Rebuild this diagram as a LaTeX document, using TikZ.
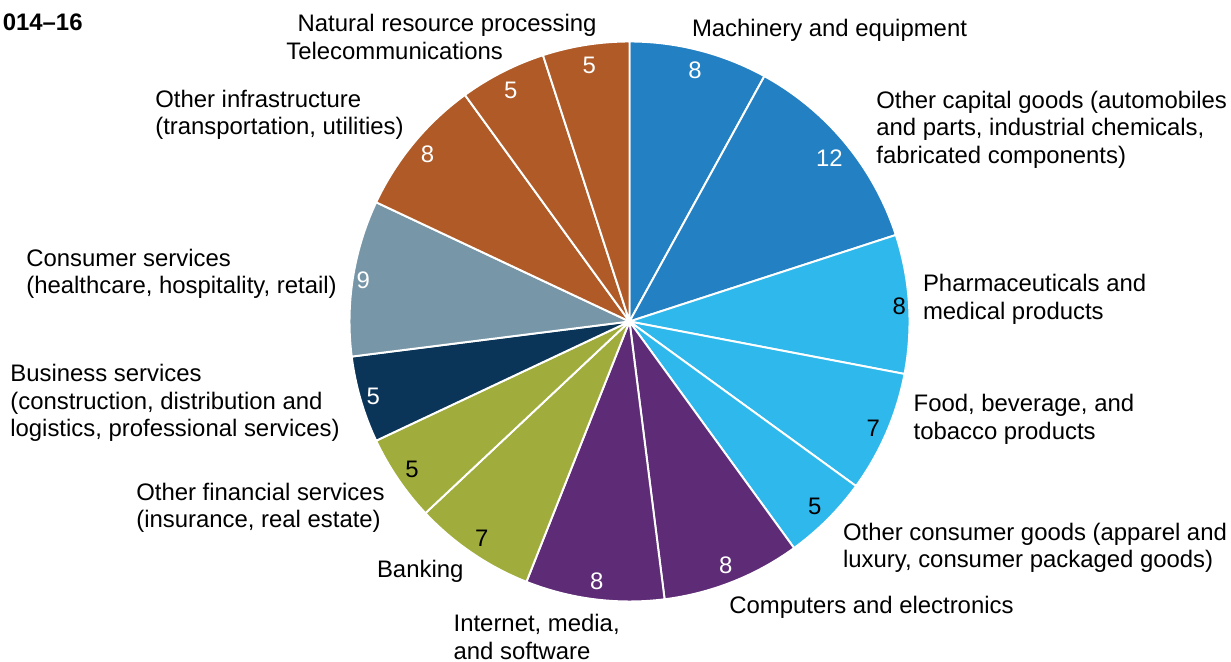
\documentclass[tikz,border=0pt]{standalone}
\usepackage{xcolor}
\usepackage{fontspec}
\setmainfont{Liberation Sans}
\usepackage{tikz}

\definecolor{capblue}{HTML}{2280C3}
\definecolor{conblue}{HTML}{2EB8EC}
\definecolor{techpurple}{HTML}{5E2B76}
\definecolor{finolive}{HTML}{A0AC3B}
\definecolor{busnavy}{HTML}{0B3558}
\definecolor{svcgrey}{HTML}{7797A9}
\definecolor{infrabrown}{HTML}{AF5A27}

\begin{document}
\begin{tikzpicture}[line cap=round,line join=round,x=0.02cm,y=0.02cm,
	lbl/.style={anchor=base west,align=left,inner sep=0pt,font=\fontsize{13.6}{15.7}\selectfont},
	numw/.style={inner sep=0pt,text=white,font=\fontsize{13.6}{15.7}\selectfont},
	numb/.style={inner sep=0pt,text=black,font=\fontsize{13.6}{15.7}\selectfont},
	slice/.style={draw=white,line width=1.1pt}]
			\useasboundingbox (0,0) rectangle (1231,662);
			\coordinate (c) at (629.5,340.5);
			% slices, clockwise from the top
			\filldraw [slice,fill=capblue] (c) -- ++(90:280) arc[start angle=90,end angle=61.2,radius=280] -- cycle;
			\filldraw [slice,fill=capblue] (c) -- ++(61.2:280) arc[start angle=61.2,end angle=18,radius=280] -- cycle;
			\filldraw [slice,fill=conblue] (c) -- ++(18:280) arc[start angle=18,end angle=-10.8,radius=280] -- cycle;
			\filldraw [slice,fill=conblue] (c) -- ++(-10.8:280) arc[start angle=-10.8,end angle=-36,radius=280] -- cycle;
			\filldraw [slice,fill=conblue] (c) -- ++(-36:280) arc[start angle=-36,end angle=-54,radius=280] -- cycle;
			\filldraw [slice,fill=techpurple] (c) -- ++(-54:280) arc[start angle=-54,end angle=-82.8,radius=280] -- cycle;
			\filldraw [slice,fill=techpurple] (c) -- ++(-82.8:280) arc[start angle=-82.8,end angle=-111.6,radius=280] -- cycle;
			\filldraw [slice,fill=finolive] (c) -- ++(-111.6:280) arc[start angle=-111.6,end angle=-136.8,radius=280] -- cycle;
			\filldraw [slice,fill=finolive] (c) -- ++(-136.8:280) arc[start angle=-136.8,end angle=-154.8,radius=280] -- cycle;
			\filldraw [slice,fill=busnavy] (c) -- ++(-154.8:280) arc[start angle=-154.8,end angle=-172.8,radius=280] -- cycle;
			\filldraw [slice,fill=svcgrey] (c) -- ++(-172.8:280) arc[start angle=-172.8,end angle=-205.2,radius=280] -- cycle;
			\filldraw [slice,fill=infrabrown] (c) -- ++(-205.2:280) arc[start angle=-205.2,end angle=-234,radius=280] -- cycle;
			\filldraw [slice,fill=infrabrown] (c) -- ++(-234:280) arc[start angle=-234,end angle=-252,radius=280] -- cycle;
			\filldraw [slice,fill=infrabrown] (c) -- ++(-252:280) arc[start angle=-252,end angle=-270,radius=280] -- cycle;
			% values
			\node[numw] (vMach) at (695,592) {8};
			\node[numw] (vCap) at (829.3,503.7) {12};
			\node[numb] (vPharma) at (899.3,355.3) {8};
			\node[numb] (vFood) at (873.3,233.7) {7};
			\node[numb] (vCons) at (814.8,155.2) {5};
			\node[numw] (vComp) at (725.7,97) {8};
			\node[numw] (vNet) at (596.7,80.3) {8};
			\node[numb] (vBank) at (481.7,123.7) {7};
			\node[numb] (vFin) at (412,192.7) {5};
			\node[numw] (vBus) at (373.3,265.3) {5};
			\node[numw] (vSvc) at (363.3,382) {9};
			\node[numw] (vInfra) at (427.6,507.5) {8};
			\node[numw] (vTel) at (510.7,572) {5};
			\node[numw] (vNat) at (589.3,597) {5};
			% labels (base = last line)
			\node[lbl,font=\bfseries\fontsize{13.6}{15.7}\selectfont] (title) at (2.5,631.3) {014–16};
			\node[lbl] (lMach) at (691.7,625.3) {Machinery and equipment};
			\node[lbl] (lCap) at (876,498.5) {Other capital goods (automobiles\\and parts, industrial chemicals,\\fabricated components)};
			\node[lbl] (lPharma) at (922.7,342.7) {Pharmaceuticals and\\medical products};
			\node[lbl] (lFood) at (913.3,222.7) {Food, beverage, and\\tobacco products};
			\node[lbl] (lCons) at (842.7,94.4) {Other consumer goods (apparel and\\luxury, consumer packaged goods)};
			\node[lbl] (lComp) at (729,48) {Computers and electronics};
			\node[lbl] (lNet) at (453.3,2.7) {Internet, media,\\and software};
			\node[lbl] (lBank) at (376.7,84.5) {Banking};
			\node[lbl] (lFin) at (136,134.4) {Other financial services\\(insurance, real estate)};
			\node[lbl] (lBus) at (10,225.1) {Business services\\(construction, distribution and\\logistics, professional services)};
			\node[lbl] (lSvc) at (26,368.4) {Consumer services\\(healthcare, hospitality, retail)};
			\node[lbl] (lInfra) at (155,527.1) {Other infrastructure\\(transportation, utilities)};
			\node[lbl] (lTel) at (286,602) {Telecommunications};
			\node[lbl] (lNat) at (297.3,630.3) {Natural resource processing};
			\end{tikzpicture}
\end{document}
